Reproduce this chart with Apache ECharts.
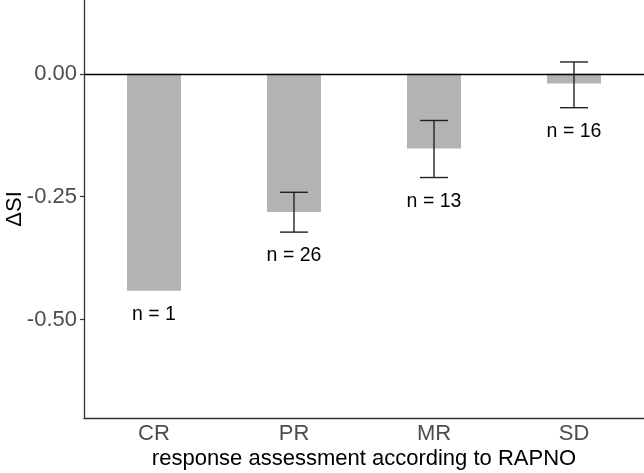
<!DOCTYPE html>
<html>
<head>
<meta charset="utf-8">
<script src="https://cdn.jsdelivr.net/npm/echarts@6/dist/echarts.min.js"></script>
<style>
  html, body { margin: 0; padding: 0; background: #fff; }
  #chart { width: 644px; height: 473px; }
</style>
</head>
<body>
<div id="chart"></div>
<script>
// data
var categories = ['CR', 'PR', 'MR', 'SD'];
var meanDelta = [-0.441, -0.281, -0.152, -0.020];
var errUpper = [null, -0.241, -0.095, 0.024];
var errLower = [null, -0.322, -0.211, -0.069];
var nCounts = [1, 26, 13, 16];
var yTicks = [-0.5, -0.25, 0];

var font = 'Liberation Sans, Arial, sans-serif';

var errData = [];
var labelData = [];
for (var i = 0; i < categories.length; i++) {
  if (errUpper[i] !== null) {
    errData.push([i, errUpper[i], errLower[i]]);
  }
  var lowest = errLower[i] !== null ? Math.min(errLower[i], meanDelta[i]) : meanDelta[i];
  labelData.push([i, lowest, 'n = ' + nCounts[i]]);
}

var chart = echarts.init(document.getElementById('chart'));
var option = {
  animation: false,
  grid: { left: 84, right: 0, top: 0, bottom: 55, containLabel: false, outerBoundsMode: 'none' },
  xAxis: {
    type: 'category',
    data: categories,
    name: 'response assessment according to RAPNO',
    nameLocation: 'middle',
    nameGap: 30,
    nameMoveOverlap: false,
    nameTextStyle: { color: '#000', fontSize: 22, fontFamily: font },
    axisLine: { onZero: false, lineStyle: { color: '#333', width: 1.3 } },
    axisTick: { alignWithLabel: true, length: 4, lineStyle: { color: '#333', width: 1.2 } },
    axisLabel: { color: '#4d4d4d', fontSize: 22, fontFamily: font, margin: 5 }
  },
  yAxis: {
    type: 'value',
    min: -0.7,
    max: 0.15,
    name: 'ΔSI',
    nameLocation: 'middle',
    nameGap: 58,
    nameRotate: 90,
    nameMoveOverlap: false,
    nameTextStyle: { color: '#000', fontSize: 22, fontFamily: font },
    splitLine: { show: false },
    axisLine: { show: true, lineStyle: { color: '#333', width: 1.3 } },
    axisTick: { show: true, length: 4, customValues: yTicks, lineStyle: { color: '#333', width: 1.2 } },
    axisLabel: {
      color: '#4d4d4d', fontSize: 22, fontFamily: font, margin: 7,
      customValues: yTicks,
      formatter: function (v) { return v.toFixed(2); }
    }
  },
  series: [
    {
      type: 'bar',
      data: meanDelta,
      barWidth: 54,
      itemStyle: { color: '#b3b3b3' },
      markLine: {
        silent: true,
        symbol: 'none',
        label: { show: false },
        lineStyle: { color: '#000', width: 1.3, type: 'solid' },
        data: [{ yAxis: 0 }]
      },
      z: 2
    },
    {
      type: 'custom',
      data: errData,
      z: 5,
      renderItem: function (params, api) {
        var top = api.coord([api.value(0), api.value(1)]);
        var bot = api.coord([api.value(0), api.value(2)]);
        var hw = 14;
        var style = { stroke: '#222', lineWidth: 1.4 };
        return {
          type: 'group',
          children: [
            { type: 'line', shape: { x1: top[0], y1: top[1], x2: bot[0], y2: bot[1] }, style: style },
            { type: 'line', shape: { x1: top[0] - hw, y1: top[1], x2: top[0] + hw, y2: top[1] }, style: style },
            { type: 'line', shape: { x1: bot[0] - hw, y1: bot[1], x2: bot[0] + hw, y2: bot[1] }, style: style }
          ]
        };
      }
    },
    {
      type: 'custom',
      data: labelData,
      z: 5,
      renderItem: function (params, api) {
        var p = api.coord([api.value(0), api.value(1)]);
        return {
          type: 'text',
          style: {
            x: p[0], y: p[1] + 24,
            text: labelData[params.dataIndex][2],
            fill: '#000',
            fontSize: 19.5,
            fontFamily: font,
            align: 'center',
            verticalAlign: 'middle'
          }
        };
      }
    }
  ]
};
chart.setOption(option);
</script>
</body>
</html>
